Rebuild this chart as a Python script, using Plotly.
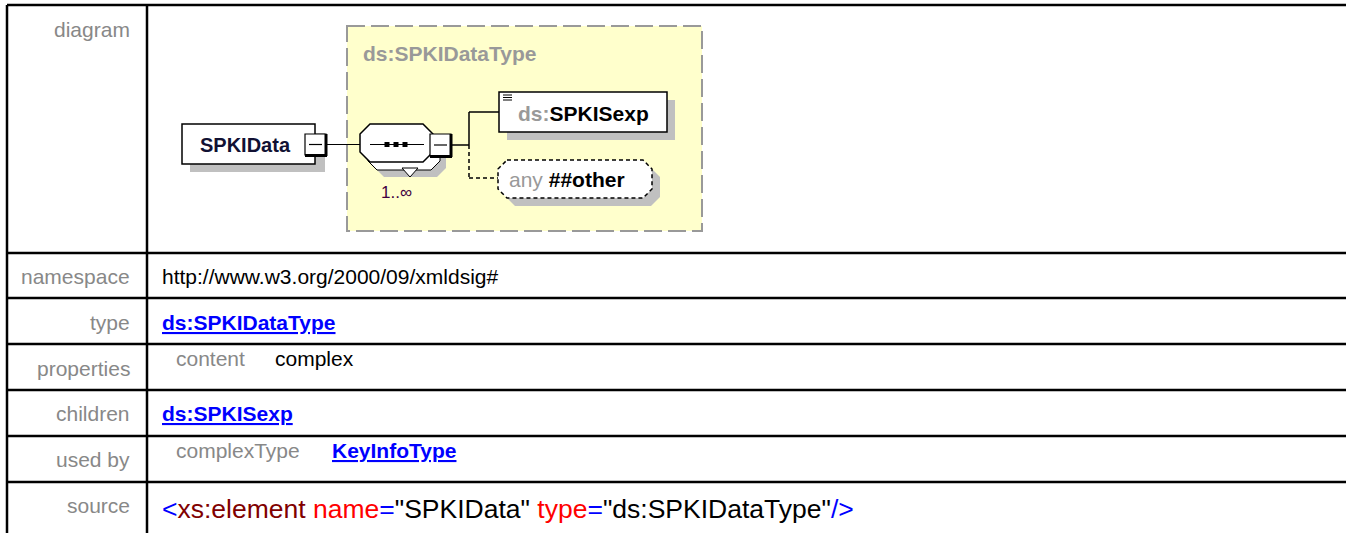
import plotly.graph_objects as go

# ---------------- content ----------------
row_labels = ["diagram", "namespace", "type", "properties", "children", "used by", "source"]
element_name = "SPKIData"
complex_type_name = "ds:SPKIDataType"
child_prefix = "ds:"
child_name = "SPKISexp"
any_keyword = "any"
any_namespace = "##other"
occurrence = "1..\u221e"
namespace_value = "http://www.w3.org/2000/09/xmldsig#"
type_value = "ds:SPKIDataType"
property_names = ["content"]
property_values = ["complex"]
children_values = ["ds:SPKISexp"]
used_by_kinds = ["complexType"]
used_by_names = ["KeyInfoType"]
source_parts = ["<", "xs:element", " name", "=", "\"SPKIData\"", " type", "=", "\"ds:SPKIDataType\"", "/>"]

# ---------------- layout / style ----------------
W, H = 1346, 533
FONT = "Arial, Liberation Sans, sans-serif"
LABEL_COLOR = "#888888"
LINK_COLOR = "#0000FF"
YELLOW = "#FFFFCC"
SHADOW = "#C0C0C0"
source_colors = ["#0000FF", "#800000", "#FF0000", "#0000FF", "#000000", "#FF0000", "#0000FF", "#000000", "#0000FF"]

row_lines = [5, 253, 298, 344, 390, 436, 482]
label_y = [29, 276, 322, 368, 413, 459, 505]
col_x = 147
left_x = 7
label_right = 131
value_x = 161

shapes = []
annotations = []


def line(x0, y0, x1, y1, color="#000000", width=1.0, dash="solid"):
    shapes.append(dict(type="line", xref="x", yref="y", x0=x0, y0=y0, x1=x1, y1=y1,
                       line=dict(color=color, width=width, dash=dash)))


def rect(x0, y0, x1, y1, fill, color=None, width=0, dash="solid"):
    shapes.append(dict(type="rect", xref="x", yref="y", x0=x0, y0=y0, x1=x1, y1=y1,
                       fillcolor=fill,
                       line=dict(color=color or fill, width=width, dash=dash)))


def path(p, fill, color=None, width=0, dash="solid"):
    shapes.append(dict(type="path", xref="x", yref="y", path=p, fillcolor=fill,
                       line=dict(color=color or fill, width=width, dash=dash)))


def octagon(x0, y0, x1, y1, c):
    return (f"M{x0+c},{y0} L{x1-c},{y0} L{x1},{y0+c} L{x1},{y1-c} L{x1-c},{y1} "
            f"L{x0+c},{y1} L{x0},{y1-c} L{x0},{y0+c} Z")


def txt(x, y, s, size, color="#000000", anchor="left"):
    annotations.append(dict(x=x, y=y, xref="x", yref="y", text=s, showarrow=False,
                            xanchor=anchor, yanchor="middle", borderpad=0,
                            font=dict(family=FONT, size=size, color=color)))


# ---------------- table grid ----------------
for yv in row_lines:
    line(left_x, yv, W + 40, yv, width=2.5)
line(left_x, row_lines[0], left_x, H + 40, width=2.5)
line(col_x, row_lines[0], col_x, H + 40, width=2.5)

# labels
for lab, yv in zip(row_labels, label_y):
    txt(label_right, yv, lab, 21, LABEL_COLOR, anchor="right")

# ---------------- diagram ----------------
# complex type container
rect(347, 26, 702, 231, YELLOW, "#999999", 2, "18px,6px")
txt(362, 53, f"<b>{complex_type_name}</b>", 21, "#999999")

# element box
rect(190, 133, 325, 172, SHADOW)
rect(182, 124, 315, 164, "#FFFFFF", "#000000", 1.5)
txt(245, 145, f"<b>{element_name}</b>", 20, "#111133", anchor="center")
# minus box
rect(305, 134, 326, 155, "#FFFFFF", "#000000", 1.2)
line(326, 134, 326, 156, width=3)
line(305, 155.5, 327, 155.5, width=3)
line(309, 144.5, 322, 144.5, width=1.2)
# connector
line(327, 144.5, 360, 144.5, width=1.2)

# sequence compositor with 1..inf
path(octagon(375, 139, 446, 177, 9), SHADOW)
path(octagon(368, 132, 440, 170, 9), "#FFFFFF", "#000000", 1.0)
path("M402,168 L418,168 L410,177 Z", "#FFFFFF", "#000000", 1.0)
path(octagon(360, 124, 433, 162, 10), "#FFFFFF", "#000000", 1.5)
line(370, 144.5, 424, 144.5, width=1.2)
for dx in (387, 396, 405):
    rect(dx - 2.5, 142, dx + 2.5, 147, "#000000")
txt(396, 192, occurrence, 17, "#400040", anchor="center")
# sequence minus box
rect(430, 134, 451, 156, "#FFFFFF", "#000000", 1.2)
line(451, 134, 451, 157, width=3)
line(430, 156.5, 452, 156.5, width=3)
line(434, 145, 447, 145, width=1.2)

# branches
line(452, 145, 469, 145, width=1.5)
line(469, 112, 469, 145, width=1.5)
line(469, 112, 499, 112, width=1.5)
line(469, 145, 469, 178, width=1.5, dash="4px,3px")
line(469, 178, 498, 178, width=1.5, dash="4px,3px")

# child element box
rect(507, 100, 675, 140, SHADOW)
rect(499, 92, 667, 132, "#FFFFFF", "#000000", 1.5)
for yy in (95, 97.5, 100):
    line(503, yy, 512, yy, width=1)
txt(517, 113, f"<span style='color:#999999'><b>{child_prefix}</b></span><b>{child_name}</b>", 21, "#000000")

# any wildcard
path(octagon(506, 168, 660, 206, 9), SHADOW)
path(octagon(498, 160, 652, 198, 9), "#FFFFFF", "#000000", 1.5, "4px,3px")
txt(508, 179, f"<span style='color:#999999'>{any_keyword}</span> <b>{any_namespace}</b>", 21, "#000000")

# ---------------- values ----------------
txt(value_x, label_y[1], namespace_value, 21)
txt(value_x, label_y[2], f"<b><u>{type_value}</u></b>", 21, LINK_COLOR)
txt(175, 358, f"<span style='color:{LABEL_COLOR}'>{property_names[0]}</span>", 21)
txt(274, 358, property_values[0], 21)
txt(value_x, label_y[4], f"<b><u>{children_values[0]}</u></b>", 21, LINK_COLOR)
txt(175, 450, f"<span style='color:{LABEL_COLOR}'>{used_by_kinds[0]}</span>", 21)
txt(331, 450, f"<b><u>{used_by_names[0]}</u></b>", 21, LINK_COLOR)
src = "".join(f"<span style='color:{c}'>{p}</span>" for p, c in zip(source_parts, source_colors))
txt(value_x, 509, src, 26.5)

fig = go.Figure()
fig.update_layout(
    width=W, height=H, autosize=False,
    margin=dict(l=0, r=0, t=0, b=0, pad=0),
    paper_bgcolor="#FFFFFF", plot_bgcolor="#FFFFFF",
    xaxis=dict(range=[0, W], visible=False, fixedrange=True),
    yaxis=dict(range=[H, 0], visible=False, fixedrange=True),
    shapes=shapes, annotations=annotations, showlegend=False,
)
fig.write_html(
    "out.html",
    config={"displayModeBar": False},
    post_script="document.body.style.margin='0';document.body.style.overflow='hidden';",
)
